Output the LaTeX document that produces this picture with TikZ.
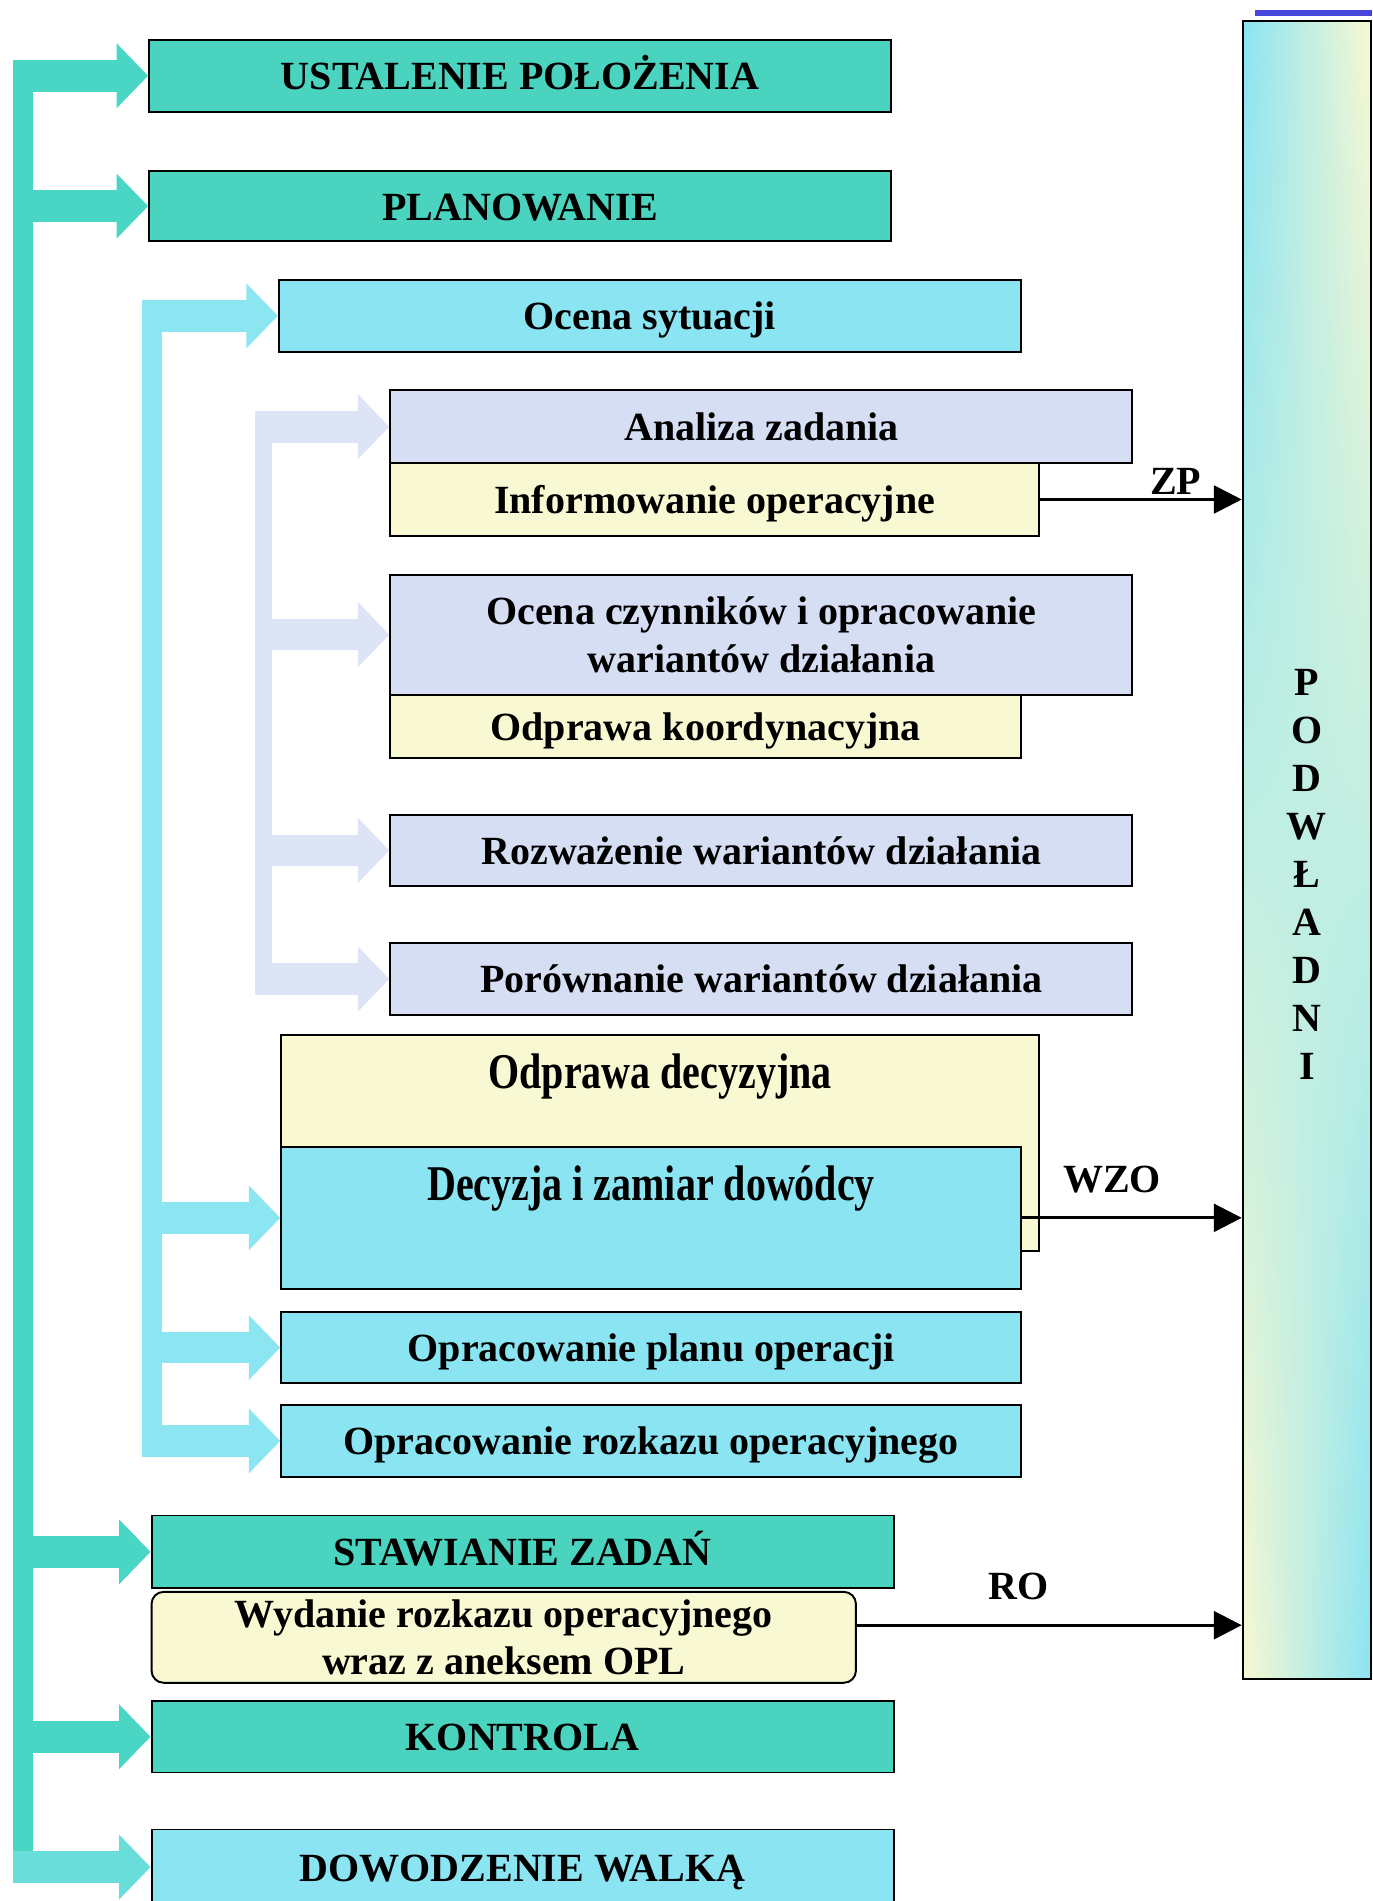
\documentclass[tikz,border=0pt]{standalone}
\usepackage{fontspec}
\usepackage{graphicx}
\setmainfont{Liberation Serif}
\usetikzlibrary{arrows.meta,shadings}

\definecolor{cTurkus}{RGB}{74,212,192}
\definecolor{cCyjan}{RGB}{138,228,242}
\definecolor{cLawenda}{RGB}{214,222,244}
\definecolor{cZolty}{RGB}{248,248,210}
\definecolor{cTrzonT}{RGB}{74,214,196}
\definecolor{cTrzonC}{RGB}{140,230,242}
\definecolor{cTrzonL}{RGB}{220,228,246}
\definecolor{cPasek}{RGB}{70,70,220}

\begin{document}
\begin{tikzpicture}[x=0.5pt,y=-0.5pt,font=\bfseries\fontsize{16.5}{20}\selectfont]
  \tikzstyle{blok}    = [draw=black,line width=0.8pt,inner sep=0pt,align=center,text height=11.5pt,text depth=0pt]
  \tikzstyle{dwie}    = [text height=,text depth=]
  \tikzstyle{blokT}   = [blok,fill=cTurkus]
  \tikzstyle{blokC}   = [blok,fill=cCyjan]
  \tikzstyle{blokL}   = [blok,fill=cLawenda]
  \tikzstyle{blokZ}   = [blok,fill=cZolty]
  \tikzstyle{napis}   = [inner sep=0pt]
  \tikzstyle{grot}    = [-{Triangle[length=13pt,width=26pt]}]
  \tikzstyle{strzT}   = [grot,cTrzonT,line width=13pt,shorten <=-4.25pt]
  \tikzstyle{strzC}   = [grot,cTrzonC,line width=13pt,shorten <=-4pt]
  \tikzstyle{strzL}   = [grot,cTrzonL,line width=13pt,shorten <=-3.5pt]
  \tikzstyle{wyjscie} = [line width=1.2pt,-{Triangle[length=11.5pt,width=11.5pt]}]
  \tikzstyle{etykieta}= [inner sep=0pt]

  \clip (0,0) rectangle (1132,1568);
  \fill[white] (0,0) rectangle (1132,1568);

  % glowne etapy
  \path (429,62.5)  node[blokT,minimum width=306pt,minimum height=29.5pt](ust) {USTALENIE POŁOŻENIA};
  \path (429,170)   node[blokT,minimum width=306pt,minimum height=29pt](plan) {PLANOWANIE};
  \path (536,260.5) node[blokC,minimum width=306pt,minimum height=29.5pt](ocena) {Ocena sytuacji};

  % ocena sytuacji
  \path (628,352)   node[blokL,minimum width=306pt,minimum height=30pt](anal) {Analiza zadania};
  \path (589.5,412) node[blokZ,minimum width=267.5pt,minimum height=30pt](info) {Informowanie operacyjne};
  \path (628,523.5) node[blokL,dwie,minimum width=306pt,minimum height=49.5pt](czyn) {Ocena czynników i opracowanie\\wariantów działania};
  \path (582,599)   node[blokZ,minimum width=260pt,minimum height=26pt](koord) {Odprawa koordynacyjna};
  \path (628,701.5) node[blokL,minimum width=306pt,minimum height=29.5pt](rozw) {Rozważenie wariantów działania};
  \path (628,807.5) node[blokL,minimum width=306pt,minimum height=29.5pt](porow) {Porównanie wariantów działania};

  % decyzja
  \path (544.5,943)  node[blokZ,minimum width=312.5pt,minimum height=89pt](odprd) {};
  \path (544.5,888)  node[napis](odprdtxt) {\scalebox{1}[1.25]{Odprawa decyzyjna}};
  \path (537,1004.5) node[blokC,minimum width=305pt,minimum height=58.5pt](decyz) {};
  \path (537,980)    node[napis](decyztxt) {\scalebox{1}[1.25]{Decyzja i zamiar dowódcy}};
  \path (537,1111.5) node[blokC,minimum width=305pt,minimum height=29.5pt](oplan) {Opracowanie planu operacji};
  \path (537,1188.5) node[blokC,minimum width=305pt,minimum height=29.5pt](orozk) {Opracowanie rozkazu operacyjnego};

  % dalsze etapy
  \path (431,1280)   node[blokT,minimum width=306pt,minimum height=30pt](staw) {STAWIANIE ZADAŃ};
  \path (415.5,1350.5) node[blokZ,dwie,rounded corners=5pt,minimum width=290.5pt,minimum height=37.5pt,font=\bfseries\fontsize{16.5}{19.5}\selectfont](wyd) {Wydanie rozkazu operacyjnego\\wraz z aneksem OPL};
  \path (431,1432.5) node[blokT,minimum width=306pt,minimum height=29.5pt](kontr) {KONTROLA};
  \path (431,1540)   node[blokC,minimum width=306pt,minimum height=31pt](dow) {DOWODZENIE WALKĄ};

  % podwladni
  \fill[cPasek] (1035,8) rectangle (1132,13);
  \path (1078,701) node[draw=black,line width=0.8pt,inner sep=0pt,minimum width=53pt,minimum height=684pt,
    shade,upper left=cCyjan,upper right=cZolty,lower left=cZolty,lower right=cCyjan](podw) {};
  \path (1078,721.5) node[napis,align=center,font=\bfseries\fontsize{16.5}{19.8}\selectfont](podwtxt)
    {P\\O\\D\\W\\Ł\\A\\D\\N\\I};

  % trzony strzalek
  \coordinate (tT) at (19,0);
  \coordinate (tC) at (125.5,0);
  \coordinate (tL) at (217,0);
  \draw[cTrzonT,line width=8pt] (tT |- ust.west) -- (tT |- dow.west);
  \draw[cTrzonC,line width=8pt]   (tC |- ocena.west) -- (tC |- orozk.west);
  \draw[cTrzonL,line width=7pt]   (tL |- anal.west) -- (tL |- porow.west);
  \foreach \b in {ust,plan,staw,kontr}
    \draw[strzT] (tT |- \b.west) -- (\b.west);
  \draw[strzT,cTrzonT!55!cTrzonC] (tT |- dow.west) -- (dow.west);
  \foreach \b in {ocena,decyz,oplan,orozk}
    \draw[strzC] (tC |- \b.west) -- (\b.west);
  \foreach \b in {anal,czyn,rozw,porow}
    \draw[strzL] (tL |- \b.west) -- (\b.west);

  % meldunki do podwladnych
  \coordinate (roS) at ([yshift=5pt]wyd.east);
  \draw[wyjscie] (info.east) -- (info.east -| podw.west) node[etykieta,pos=0.673,above=1.5pt] {ZP};
  \draw[wyjscie] (decyz.east) -- (decyz.east -| podw.west) node[etykieta,pos=0.41,above=9.5pt] {WZO};
  \draw[wyjscie] (roS) -- (roS -| podw.west) node[etykieta,pos=0.42,above=10pt] {RO};
\end{tikzpicture}
\end{document}
